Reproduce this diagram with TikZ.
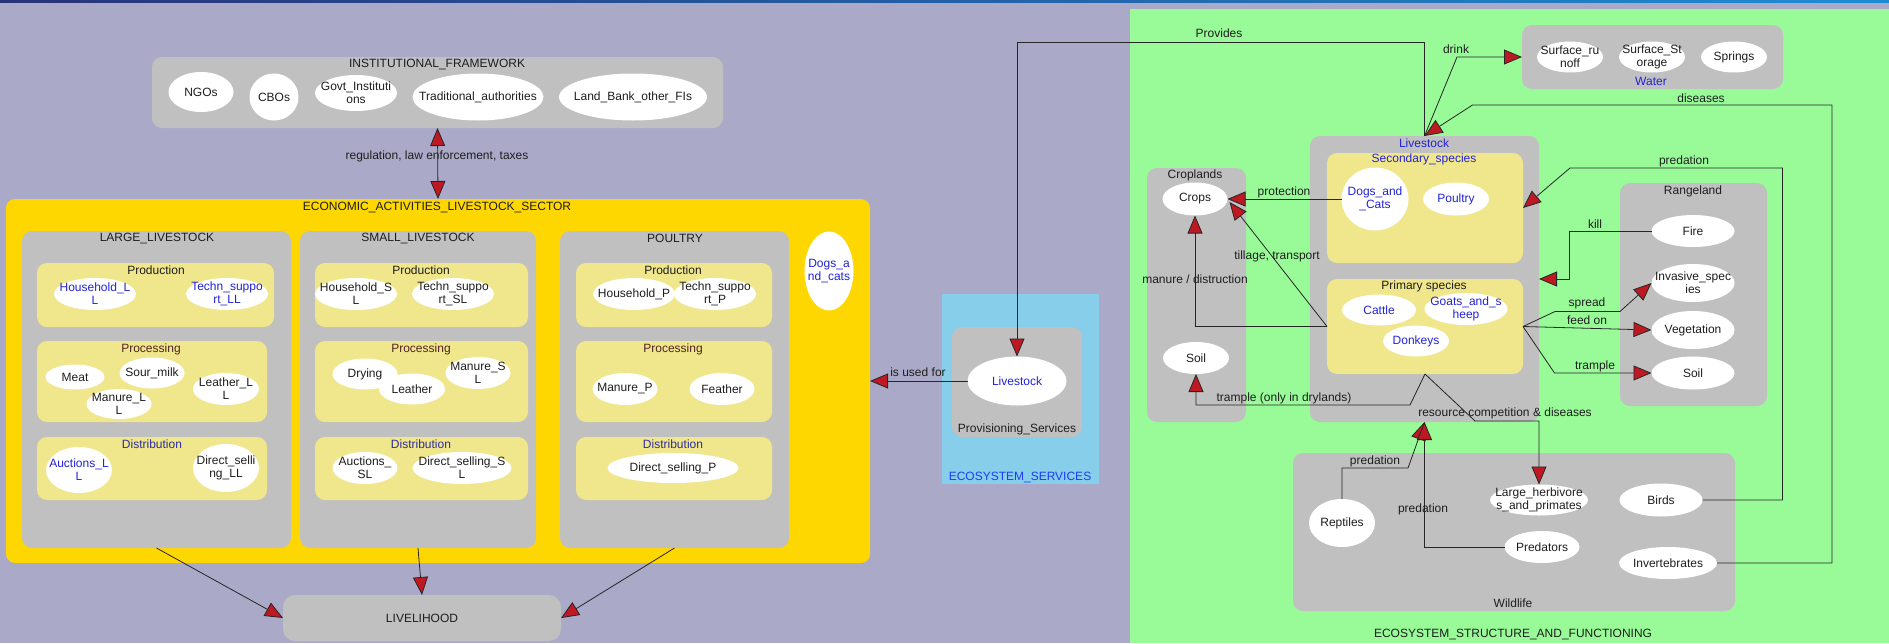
\documentclass[tikz,border=0pt]{standalone}
\usepackage{fontspec}
\setmainfont{Liberation Sans}
\usetikzlibrary{shapes.geometric,arrows.meta,calc}
\definecolor{lav}{RGB}{170,170,200}
\definecolor{grn}{RGB}{152,251,152}
\definecolor{goldc}{RGB}{255,215,0}
\definecolor{bgray}{RGB}{192,192,192}
\definecolor{khakic}{RGB}{240,230,140}
\definecolor{skyc}{RGB}{135,206,235}
\definecolor{tdark}{RGB}{30,30,30}
\definecolor{tblue}{RGB}{35,35,215}
\definecolor{esblue}{RGB}{30,60,240}
\definecolor{tnavy}{RGB}{45,45,160}
\definecolor{tmaroon}{RGB}{80,35,35}
\definecolor{arrred}{RGB}{190,25,35}
\definecolor{topnavy}{RGB}{40,50,120}
\definecolor{topblue}{RGB}{30,140,210}
\newcommand\fs{\fontsize{12}{13}\selectfont}
\newcommand\bx[6]{%
  \pgfmathsetmacro\bw{#5-#3}\pgfmathsetmacro\bh{#6-#4}%
  \node[#1, minimum width=\bw pt, minimum height=\bh pt, anchor=north west] (#2) at (#3,#4) {};}
\newcommand\el[7][txt]{%
  \node[ell, minimum width=#5pt, minimum height=#6pt, label={[#1]center:{#7}}] (#2) at (#3,#4) {};}
\begin{document}
\begin{tikzpicture}[x=1pt,y=-1pt,
  RT/.tip={Triangle[length=18pt,width=15pt,fill=arrred]},
  boxbase/.style={rectangle, inner sep=0pt, outer sep=0pt, draw=none},
  gbox/.style={boxbase, fill=bgray, rounded corners=10pt},
  ybox/.style={boxbase, fill=khakic, rounded corners=10pt},
  goldbox/.style={boxbase, fill=goldc, rounded corners=9pt},
  skybox/.style={boxbase, fill=skyc},
  greenbox/.style={boxbase, fill=grn},
  ell/.style={ellipse, fill=white, draw=none, inner sep=0pt, outer sep=0pt},
  txt/.style={font=\fs, text=tdark, align=center, inner sep=0pt},
  btxt/.style={txt, text=tblue},
  ntxt/.style={txt, text=tnavy},
  mtxt/.style={txt, text=tmaroon},
  arr/.style={draw=black!85, line width=0.8pt, -RT},
  arr2/.style={draw=black!85, line width=0.8pt, RT-RT}]
\useasboundingbox (0,0) rectangle (1889,643);
\fill[lav] (0,0) rectangle (1889,643);
\shade[left color=topnavy, right color=topblue] (0,0) rectangle (1889,2);

% ================= LEFT PART =================
\bx{gbox}{inst}{152}{57}{723}{128}
\node[txt] (instT) at (437,64) {INSTITUTIONAL\_FRAMEWORK};
\el{ngo}{201}{92}{65}{40}{NGOs}
\el{cbo}{274}{97}{49}{47}{CBOs}
\el{govt}{356}{93}{82}{36}{Govt\_Instituti\\ons}
\el{trad}{478}{97}{131}{47}{Traditional\_authorities}
\el{land}{633}{97}{148}{47}{Land\_Bank\_other\_FIs}

\bx{goldbox}{eco}{6}{199}{870}{563}
\node[txt] (ecoT) at (437,207) {ECONOMIC\_ACTIVITIES\_LIVESTOCK\_SECTOR};

\bx{gbox}{LL}{22}{231}{291}{548}
\bx{gbox}{SL}{300}{231}{536}{548}
\bx{gbox}{PO}{560}{231}{789}{548}
\node[txt] (LLT) at (157,238) {LARGE\_LIVESTOCK};
\node[txt] (SLT) at (418,238) {SMALL\_LIVESTOCK};
\node[txt] (POT) at (675,238) {POULTRY};
\el[btxt]{dogsl}{829}{271}{49}{79}{Dogs\_a\\nd\_cats}

% Production
\bx{ybox}{prodLL}{37}{263}{274}{327}
\bx{ybox}{prodSL}{315}{263}{528}{327}
\bx{ybox}{prodP}{576}{263}{772}{327}
\node[txt] (prodLLT) at (156,270) {Production};
\node[txt] (prodSLT) at (421,270) {Production};
\node[txt] (prodPT) at (673,270) {Production};
\el[btxt]{hhLL}{95}{294}{82}{32}{Household\_L\\L}
\el[btxt]{tsLL}{227}{294}{82}{32}{Techn\_suppo\\rt\_LL}
\el{hhSL}{356}{294}{82}{32}{Household\_S\\L}
\el{tsSL}{453}{294}{82}{32}{Techn\_suppo\\rt\_SL}
\el{hhP}{634}{294}{82}{32}{Household\_P}
\el{tsP}{715}{294}{82}{32}{Techn\_suppo\\rt\_P}

% Processing
\bx{ybox}{procLL}{37}{341}{267}{422}
\bx{ybox}{procSL}{315}{341}{528}{422}
\bx{ybox}{procP}{576}{341}{772}{422}
\node[mtxt] (procLLT) at (151,349) {Processing};
\node[mtxt] (procSLT) at (421,349) {Processing};
\node[mtxt] (procPT) at (673,349) {Processing};
\el{meat}{75}{377}{59}{25}{Meat}
\el{sour}{152}{373}{65}{31}{Sour\_milk}
\el{manLL}{119}{404}{65}{30}{Manure\_L\\L}
\el{leaLL}{226}{389}{66}{32}{Leather\_L\\L}
\el{dry}{365}{374}{65}{31}{Drying}
\el{lea}{412}{389}{66}{31}{Leather}
\el{manSL}{478}{373}{65}{32}{Manure\_S\\L}
\el{manP}{625}{389}{65}{32}{Manure\_P}
\el{feat}{722}{389}{65}{32}{Feather}

% Distribution
\bx{ybox}{distLL}{37}{437}{267}{500}
\bx{ybox}{distSL}{315}{437}{528}{500}
\bx{ybox}{distP}{576}{437}{772}{500}
\node[ntxt] (distLLT) at (152,444) {Distribution};
\node[ntxt] (distSLT) at (421,444) {Distribution};
\node[ntxt] (distPT) at (673,444) {Distribution};
\el[btxt]{aucLL}{79}{470}{66}{46}{Auctions\_L\\L}
\el{dsLL}{226}{468}{66}{48}{Direct\_selli\\ng\_LL}
\el{aucSL}{365}{468}{65}{32}{Auctions\_\\SL}
\el{dsSL}{462}{468}{99}{32}{Direct\_selling\_S\\L}
\el{dsP}{673}{468}{131}{30}{Direct\_selling\_P}

% Livelihood
\node[boxbase, fill=bgray, rounded corners=12pt, minimum width=278pt, minimum height=46pt, anchor=north west] (liv) at (283,595) {};
\node[txt] (livT) at (422,618) {LIVELIHOOD};

\draw[arr2] (inst.south) -- (eco.north);
\node[txt] (regL) at (437,156) {regulation, law enforcement, taxes};
\draw[arr] (LL.south) -- (liv.west);
\draw[arr] (SL.south) -- (liv.north);
\draw[arr] (PO.south) -- (liv.east);

% ================= ECOSYSTEM SERVICES =================
\bx{skybox}{es}{942}{294}{1099}{484}
\bx{gbox}{prov}{952}{327}{1082}{437}
\el[btxt]{pslive}{1017}{381}{99}{49}{Livestock}
\node[txt] (provT) at (1017,429) {Provisioning\_Services};
\node[txt, text=esblue] (esT) at (1020,477) {ECOSYSTEM\_SERVICES};
\draw[arr] (pslive.west) -- (pslive.west -| eco.east);
\node[txt] (usedL) at (918,372) {is used for};

% ================= ECOSYSTEM STRUCTURE =================
\bx{greenbox}{esf}{1130}{9}{1889}{643}
\node[txt] (esfT) at (1513,634) {ECOSYSTEM\_STRUCTURE\_AND\_FUNCTIONING};

% Water
\bx{gbox}{water}{1522}{25}{1783}{89}
\el{sro}{1570}{57}{66}{31}{Surface\_ru\\noff}
\el{sst}{1652}{57}{66}{31}{Surface\_St\\orage}
\el{spr}{1734}{57}{66}{31}{Springs}
\node[btxt] (waterT) at (1651,81) {Water};

% Croplands
\bx{gbox}{crop}{1147}{168}{1246}{422}
\node[txt] (cropT) at (1195,175) {Croplands};
\el{crops}{1195}{199}{65}{33}{Crops}
\el{soilc}{1196}{358}{66}{32}{Soil}

% Livestock
\bx{gbox}{lsbox}{1310}{136}{1539}{422}
\node[btxt] (lsT) at (1424,143) {Livestock};
\bx{ybox}{secbox}{1327}{153}{1523}{263}
\node[btxt] (secT) at (1424,159) {Secondary\_species};
\el[btxt]{dogs}{1375}{199}{67}{63}{Dogs\_and\\\_Cats}
\el[btxt]{poul}{1456}{199}{66}{33}{Poultry}
\bx{ybox}{primbox}{1327}{279}{1523}{374}
\node[txt] (primT) at (1424,286) {Primary species};
\el[btxt]{cattle}{1379}{310}{74}{31}{Cattle}
\el[btxt]{goats}{1466}{309}{83}{32}{Goats\_and\_s\\heep}
\el[btxt]{donk}{1416}{341}{66}{31}{Donkeys}

% Rangeland
\bx{gbox}{range}{1620}{183}{1767}{406}
\node[txt] (rangeT) at (1693,191) {Rangeland};
\el{fire}{1693}{231}{83}{32}{Fire}
\el{inv}{1693}{283}{83}{38}{Invasive\_spec\\ies}
\el{veg}{1693}{330}{83}{38}{Vegetation}
\el{soilr}{1693}{373}{83}{33}{Soil}

% Wildlife
\bx{gbox}{wild}{1293}{453}{1735}{611}
\node[txt] (wildT) at (1513,603) {Wildlife};
\el{rept}{1342}{523}{66}{48}{Reptiles}
\el{lherb}{1539}{500}{98}{31}{Large\_herbivore\\s\_and\_primates}
\el{birds}{1661}{500}{83}{33}{Birds}
\el{pred}{1542}{547}{75}{32}{Predators}
\el{invert}{1668}{563}{98}{32}{Invertebrates}

% ---- connectors ----
\draw[arr] (lsbox.north) -- ++(0,-94) -| (pslive.north);
\node[txt] (provL) at (1219,33) {Provides};

\draw[arr] (lsbox.north) -- ($(water.west)+(-65,0)$) -- (water.west);
\node[txt] (drinkL) at (1456,49) {drink};

\draw[arr] (invert.east) -- ++(115,0) |- ($(lsbox.north)+(48,-31)$) -- (lsbox.north);
\node[txt] (disL) at (1701,98) {diseases};

\draw[arr] (birds.east) -- ++(80,0) |- ($(secbox.east)+(47,-40)$) -- (secbox.east);
\node[txt] (predL1) at (1684,161) {predation};

\draw[arr] (fire.west) -- ++(-82,0) |- (lsbox.east);
\node[txt] (killL) at (1595,224) {kill};

\draw[arr] (primbox.east) -- ++(32,-15) -- ++(65,0) -- (inv.west);
\node[txt] (spreadL) at (1587,303) {spread};
\draw[arr] (primbox.east) -- (veg.west);
\node[txt] (feedL) at (1587,320) {feed on};
\draw[arr] (primbox.east) -- ($(soilr.west)+(-97,0)$) -- (soilr.west);
\node[txt] (trampL) at (1595,366) {trample};

\draw[arr] (dogs.west) -- (crops.east);
\node[txt] (protL) at (1284,192) {protection};
\draw[arr] (primbox.west) -- ($(crops.east)+(2,3)$);
\node[txt] (tillL) at (1277,256) {tillage, transport};
\draw[arr] (primbox.west) -| (crops.south);
\node[txt] (manL) at (1195,279) {manure / distruction};

\draw[arr] (primbox.south) -- ++(-15,31) -| (soilc.south);
\node[txt] (trampdL) at (1284,398) {trample (only in drylands)};

\draw[arr] (primbox.south) -- ++(50,47) -| (lherb.north);
\node[txt] (rcdL) at (1505,413) {resource competition \& diseases};

\draw[arr] (rept.north) -- ++(0,-31) -- ++(66,0) -- (lsbox.south);
\node[txt] (predL2) at (1375,461) {predation};
\draw[arr] (pred.west) -| (lsbox.south);
\node[txt] (predL3) at (1423,509) {predation};
\end{tikzpicture}
\end{document}
